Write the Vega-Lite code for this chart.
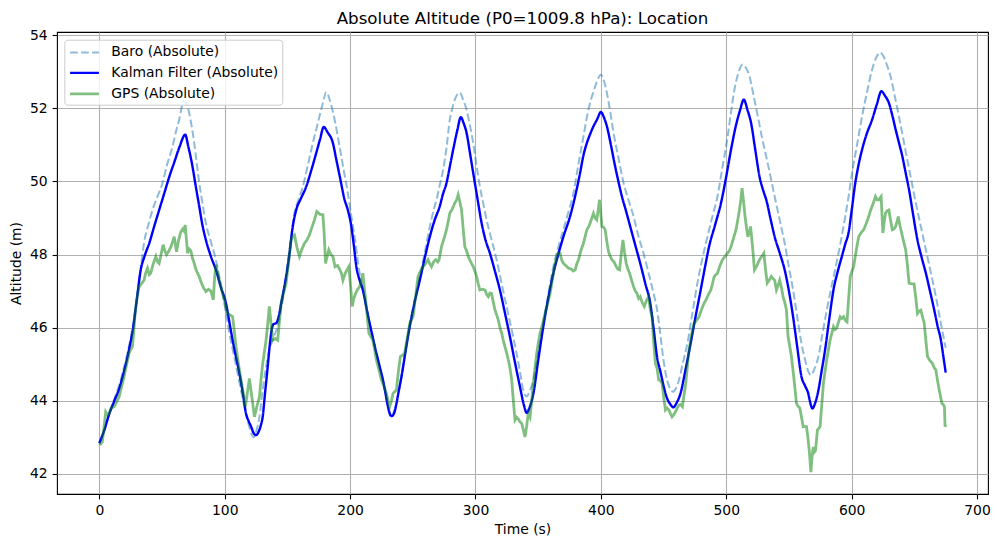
{
  "$schema": "https://vega.github.io/schema/vega-lite/v6.json",
  "width": 931,
  "height": 462,
  "autosize": {"type": "none"},
  "padding": {"left": 57, "top": 32, "right": 11, "bottom": 53},
  "background": "white",
  "title": {
    "text": "Absolute Altitude (P0=1009.8 hPa): Location",
    "font": "DejaVu Sans",
    "fontSize": 16.7,
    "fontWeight": "normal",
    "color": "black",
    "offset": 1
  },
  "config": {
    "view": {"stroke": "black", "strokeWidth": 1.1},
    "axis": {
      "domain": false,
      "grid": true,
      "gridColor": "#b0b0b0",
      "gridWidth": 1.1,
      "gridOpacity": 1,
      "tickColor": "black",
      "tickSize": 4.9,
      "tickWidth": 1.1,
      "labelFont": "DejaVu Sans",
      "labelFontSize": 13.9,
      "labelColor": "black",
      "labelPadding": 4.9,
      "titleFont": "DejaVu Sans",
      "titleFontSize": 13.9,
      "titleFontWeight": "normal",
      "titleColor": "black"
    },
    "legend": {
      "orient": "none",
      "legendX": 7.3,
      "legendY": 7.7,
      "fillColor": "rgba(255,255,255,0.8)",
      "strokeColor": "#cccccc",
      "cornerRadius": 3,
      "padding": 3.7,
      "rowPadding": 4,
      "symbolType": "M-1.8,0H1.8",
      "symbolSize": 256,
      "symbolOffset": 7,
      "labelOffset": 17.3,
      "labelFont": "DejaVu Sans",
      "labelFontSize": 13.9,
      "labelColor": "black",
      "labelLimit": 300
    }
  },
  "data": {
    "values": [
      {"series": "Baro (Absolute)", "t": 0, "alt": 42.84},
      {"series": "Baro (Absolute)", "t": 4, "alt": 43.2},
      {"series": "Baro (Absolute)", "t": 8, "alt": 43.65},
      {"series": "Baro (Absolute)", "t": 12, "alt": 44.05},
      {"series": "Baro (Absolute)", "t": 16, "alt": 44.45},
      {"series": "Baro (Absolute)", "t": 20, "alt": 44.95},
      {"series": "Baro (Absolute)", "t": 24, "alt": 45.55},
      {"series": "Baro (Absolute)", "t": 27, "alt": 46.1},
      {"series": "Baro (Absolute)", "t": 30, "alt": 46.8},
      {"series": "Baro (Absolute)", "t": 33, "alt": 47.6},
      {"series": "Baro (Absolute)", "t": 35.8, "alt": 48.35},
      {"series": "Baro (Absolute)", "t": 39, "alt": 48.8},
      {"series": "Baro (Absolute)", "t": 42.4, "alt": 49.22},
      {"series": "Baro (Absolute)", "t": 46, "alt": 49.55},
      {"series": "Baro (Absolute)", "t": 50.4, "alt": 49.96},
      {"series": "Baro (Absolute)", "t": 54, "alt": 50.45},
      {"series": "Baro (Absolute)", "t": 58.4, "alt": 50.96},
      {"series": "Baro (Absolute)", "t": 61, "alt": 51.35},
      {"series": "Baro (Absolute)", "t": 63.7, "alt": 51.69},
      {"series": "Baro (Absolute)", "t": 65.5, "alt": 52.0},
      {"series": "Baro (Absolute)", "t": 67, "alt": 52.2},
      {"series": "Baro (Absolute)", "t": 69.5, "alt": 52.12},
      {"series": "Baro (Absolute)", "t": 71.7, "alt": 51.87},
      {"series": "Baro (Absolute)", "t": 73.7, "alt": 51.5},
      {"series": "Baro (Absolute)", "t": 75.7, "alt": 51.05},
      {"series": "Baro (Absolute)", "t": 77.7, "alt": 50.5},
      {"series": "Baro (Absolute)", "t": 79.7, "alt": 49.96},
      {"series": "Baro (Absolute)", "t": 82.3, "alt": 49.4},
      {"series": "Baro (Absolute)", "t": 85, "alt": 48.86},
      {"series": "Baro (Absolute)", "t": 89, "alt": 48.35},
      {"series": "Baro (Absolute)", "t": 93, "alt": 47.85},
      {"series": "Baro (Absolute)", "t": 95.7, "alt": 47.4},
      {"series": "Baro (Absolute)", "t": 98.3, "alt": 46.94},
      {"series": "Baro (Absolute)", "t": 101, "alt": 46.4},
      {"series": "Baro (Absolute)", "t": 103.7, "alt": 45.85},
      {"series": "Baro (Absolute)", "t": 107, "alt": 45.3},
      {"series": "Baro (Absolute)", "t": 110.3, "alt": 44.75},
      {"series": "Baro (Absolute)", "t": 113.5, "alt": 44.2},
      {"series": "Baro (Absolute)", "t": 117, "alt": 43.65},
      {"series": "Baro (Absolute)", "t": 119.5, "alt": 43.3},
      {"series": "Baro (Absolute)", "t": 121.5, "alt": 43.08},
      {"series": "Baro (Absolute)", "t": 123, "alt": 43.0},
      {"series": "Baro (Absolute)", "t": 125, "alt": 43.15},
      {"series": "Baro (Absolute)", "t": 127.7, "alt": 43.56},
      {"series": "Baro (Absolute)", "t": 130.3, "alt": 44.3},
      {"series": "Baro (Absolute)", "t": 133, "alt": 44.93},
      {"series": "Baro (Absolute)", "t": 135.6, "alt": 45.4},
      {"series": "Baro (Absolute)", "t": 138.3, "alt": 45.66},
      {"series": "Baro (Absolute)", "t": 140.3, "alt": 45.85},
      {"series": "Baro (Absolute)", "t": 142.3, "alt": 46.03},
      {"series": "Baro (Absolute)", "t": 144.3, "alt": 46.4},
      {"series": "Baro (Absolute)", "t": 146.3, "alt": 46.76},
      {"series": "Baro (Absolute)", "t": 149, "alt": 47.45},
      {"series": "Baro (Absolute)", "t": 151.6, "alt": 48.13},
      {"series": "Baro (Absolute)", "t": 153.6, "alt": 48.65},
      {"series": "Baro (Absolute)", "t": 155.6, "alt": 49.13},
      {"series": "Baro (Absolute)", "t": 158.9, "alt": 49.5},
      {"series": "Baro (Absolute)", "t": 162.3, "alt": 49.86},
      {"series": "Baro (Absolute)", "t": 166.3, "alt": 50.45},
      {"series": "Baro (Absolute)", "t": 170.3, "alt": 51.05},
      {"series": "Baro (Absolute)", "t": 174.3, "alt": 51.6},
      {"series": "Baro (Absolute)", "t": 178.3, "alt": 52.15},
      {"series": "Baro (Absolute)", "t": 181, "alt": 52.45},
      {"series": "Baro (Absolute)", "t": 183.7, "alt": 52.24},
      {"series": "Baro (Absolute)", "t": 187, "alt": 51.8},
      {"series": "Baro (Absolute)", "t": 191.6, "alt": 50.96},
      {"series": "Baro (Absolute)", "t": 195, "alt": 50.3},
      {"series": "Baro (Absolute)", "t": 198.2, "alt": 49.68},
      {"series": "Baro (Absolute)", "t": 201, "alt": 49.05},
      {"series": "Baro (Absolute)", "t": 203.6, "alt": 48.49},
      {"series": "Baro (Absolute)", "t": 207.6, "alt": 47.49},
      {"series": "Baro (Absolute)", "t": 210.2, "alt": 47.03},
      {"series": "Baro (Absolute)", "t": 213, "alt": 46.55},
      {"series": "Baro (Absolute)", "t": 215.6, "alt": 46.12},
      {"series": "Baro (Absolute)", "t": 218, "alt": 45.75},
      {"series": "Baro (Absolute)", "t": 221, "alt": 45.3},
      {"series": "Baro (Absolute)", "t": 223.5, "alt": 44.95},
      {"series": "Baro (Absolute)", "t": 226.2, "alt": 44.57},
      {"series": "Baro (Absolute)", "t": 228, "alt": 44.25},
      {"series": "Baro (Absolute)", "t": 230.2, "alt": 43.84},
      {"series": "Baro (Absolute)", "t": 232.5, "alt": 43.6},
      {"series": "Baro (Absolute)", "t": 235, "alt": 43.7},
      {"series": "Baro (Absolute)", "t": 237, "alt": 43.95},
      {"series": "Baro (Absolute)", "t": 239, "alt": 44.3},
      {"series": "Baro (Absolute)", "t": 241, "alt": 44.7},
      {"series": "Baro (Absolute)", "t": 244, "alt": 45.35},
      {"series": "Baro (Absolute)", "t": 247.6, "alt": 46.08},
      {"series": "Baro (Absolute)", "t": 251.5, "alt": 46.75},
      {"series": "Baro (Absolute)", "t": 255.6, "alt": 47.4},
      {"series": "Baro (Absolute)", "t": 259.5, "alt": 48.05},
      {"series": "Baro (Absolute)", "t": 263.6, "alt": 48.77},
      {"series": "Baro (Absolute)", "t": 266.5, "alt": 49.2},
      {"series": "Baro (Absolute)", "t": 268.9, "alt": 49.5},
      {"series": "Baro (Absolute)", "t": 271.5, "alt": 49.9},
      {"series": "Baro (Absolute)", "t": 274.2, "alt": 50.32},
      {"series": "Baro (Absolute)", "t": 277, "alt": 50.95},
      {"series": "Baro (Absolute)", "t": 279.5, "alt": 51.69},
      {"series": "Baro (Absolute)", "t": 281.5, "alt": 52.0},
      {"series": "Baro (Absolute)", "t": 283.5, "alt": 52.24},
      {"series": "Baro (Absolute)", "t": 285.5, "alt": 52.38},
      {"series": "Baro (Absolute)", "t": 287.6, "alt": 52.43},
      {"series": "Baro (Absolute)", "t": 290, "alt": 52.25},
      {"series": "Baro (Absolute)", "t": 292.9, "alt": 51.96},
      {"series": "Baro (Absolute)", "t": 295.5, "alt": 51.55},
      {"series": "Baro (Absolute)", "t": 298.2, "alt": 51.05},
      {"series": "Baro (Absolute)", "t": 300.8, "alt": 50.45},
      {"series": "Baro (Absolute)", "t": 303.5, "alt": 49.86},
      {"series": "Baro (Absolute)", "t": 306.2, "alt": 49.4},
      {"series": "Baro (Absolute)", "t": 308.9, "alt": 48.95},
      {"series": "Baro (Absolute)", "t": 312.9, "alt": 48.4},
      {"series": "Baro (Absolute)", "t": 316.9, "alt": 47.85},
      {"series": "Baro (Absolute)", "t": 320.9, "alt": 47.2},
      {"series": "Baro (Absolute)", "t": 324.8, "alt": 46.58},
      {"series": "Baro (Absolute)", "t": 328.8, "alt": 45.95},
      {"series": "Baro (Absolute)", "t": 332.8, "alt": 45.3},
      {"series": "Baro (Absolute)", "t": 336, "alt": 44.7},
      {"series": "Baro (Absolute)", "t": 338, "alt": 44.3},
      {"series": "Baro (Absolute)", "t": 339.5, "alt": 44.16},
      {"series": "Baro (Absolute)", "t": 341, "alt": 44.12},
      {"series": "Baro (Absolute)", "t": 343, "alt": 44.25},
      {"series": "Baro (Absolute)", "t": 346.2, "alt": 44.57},
      {"series": "Baro (Absolute)", "t": 350, "alt": 45.3},
      {"series": "Baro (Absolute)", "t": 354.1, "alt": 46.12},
      {"series": "Baro (Absolute)", "t": 358, "alt": 46.9},
      {"series": "Baro (Absolute)", "t": 362.1, "alt": 47.67},
      {"series": "Baro (Absolute)", "t": 366, "alt": 48.2},
      {"series": "Baro (Absolute)", "t": 370.1, "alt": 48.68},
      {"series": "Baro (Absolute)", "t": 374, "alt": 49.15},
      {"series": "Baro (Absolute)", "t": 378.1, "alt": 49.68},
      {"series": "Baro (Absolute)", "t": 382, "alt": 50.45},
      {"series": "Baro (Absolute)", "t": 386.1, "alt": 51.23},
      {"series": "Baro (Absolute)", "t": 388.8, "alt": 51.75},
      {"series": "Baro (Absolute)", "t": 391.4, "alt": 52.15},
      {"series": "Baro (Absolute)", "t": 394, "alt": 52.45},
      {"series": "Baro (Absolute)", "t": 397, "alt": 52.75},
      {"series": "Baro (Absolute)", "t": 400, "alt": 52.92},
      {"series": "Baro (Absolute)", "t": 402.5, "alt": 52.75},
      {"series": "Baro (Absolute)", "t": 404.8, "alt": 52.42},
      {"series": "Baro (Absolute)", "t": 407.5, "alt": 51.9},
      {"series": "Baro (Absolute)", "t": 410.1, "alt": 51.33},
      {"series": "Baro (Absolute)", "t": 414, "alt": 50.65},
      {"series": "Baro (Absolute)", "t": 418.1, "alt": 49.96},
      {"series": "Baro (Absolute)", "t": 422, "alt": 49.5},
      {"series": "Baro (Absolute)", "t": 426.1, "alt": 49.04},
      {"series": "Baro (Absolute)", "t": 430, "alt": 48.5},
      {"series": "Baro (Absolute)", "t": 434, "alt": 48.04},
      {"series": "Baro (Absolute)", "t": 438, "alt": 47.5},
      {"series": "Baro (Absolute)", "t": 442, "alt": 46.94},
      {"series": "Baro (Absolute)", "t": 444.8, "alt": 46.5},
      {"series": "Baro (Absolute)", "t": 447.5, "alt": 45.8},
      {"series": "Baro (Absolute)", "t": 450, "alt": 45.1},
      {"series": "Baro (Absolute)", "t": 452.8, "alt": 44.57},
      {"series": "Baro (Absolute)", "t": 455, "alt": 44.35},
      {"series": "Baro (Absolute)", "t": 457.8, "alt": 44.25},
      {"series": "Baro (Absolute)", "t": 460, "alt": 44.35},
      {"series": "Baro (Absolute)", "t": 462.3, "alt": 44.57},
      {"series": "Baro (Absolute)", "t": 465.5, "alt": 45.05},
      {"series": "Baro (Absolute)", "t": 469, "alt": 45.57},
      {"series": "Baro (Absolute)", "t": 473, "alt": 46.4},
      {"series": "Baro (Absolute)", "t": 477, "alt": 47.22},
      {"series": "Baro (Absolute)", "t": 481, "alt": 47.9},
      {"series": "Baro (Absolute)", "t": 485, "alt": 48.49},
      {"series": "Baro (Absolute)", "t": 489, "alt": 49.05},
      {"series": "Baro (Absolute)", "t": 493, "alt": 49.59},
      {"series": "Baro (Absolute)", "t": 497, "alt": 50.4},
      {"series": "Baro (Absolute)", "t": 501.1, "alt": 51.23},
      {"series": "Baro (Absolute)", "t": 503.8, "alt": 51.9},
      {"series": "Baro (Absolute)", "t": 506.5, "alt": 52.51},
      {"series": "Baro (Absolute)", "t": 509.5, "alt": 52.95},
      {"series": "Baro (Absolute)", "t": 513.1, "alt": 53.2},
      {"series": "Baro (Absolute)", "t": 515.5, "alt": 53.12},
      {"series": "Baro (Absolute)", "t": 518.5, "alt": 52.88},
      {"series": "Baro (Absolute)", "t": 521.8, "alt": 52.35},
      {"series": "Baro (Absolute)", "t": 525.2, "alt": 51.78},
      {"series": "Baro (Absolute)", "t": 528.5, "alt": 51.2},
      {"series": "Baro (Absolute)", "t": 531.9, "alt": 50.68},
      {"series": "Baro (Absolute)", "t": 535.2, "alt": 50.15},
      {"series": "Baro (Absolute)", "t": 538.6, "alt": 49.59},
      {"series": "Baro (Absolute)", "t": 542.6, "alt": 48.95},
      {"series": "Baro (Absolute)", "t": 546.6, "alt": 48.31},
      {"series": "Baro (Absolute)", "t": 550, "alt": 47.65},
      {"series": "Baro (Absolute)", "t": 553.3, "alt": 47.03},
      {"series": "Baro (Absolute)", "t": 556.6, "alt": 46.3},
      {"series": "Baro (Absolute)", "t": 560, "alt": 45.57},
      {"series": "Baro (Absolute)", "t": 563, "alt": 45.1},
      {"series": "Baro (Absolute)", "t": 565.5, "alt": 44.8},
      {"series": "Baro (Absolute)", "t": 567.5, "alt": 44.7},
      {"series": "Baro (Absolute)", "t": 570, "alt": 44.85},
      {"series": "Baro (Absolute)", "t": 573.5, "alt": 45.21},
      {"series": "Baro (Absolute)", "t": 576.8, "alt": 45.85},
      {"series": "Baro (Absolute)", "t": 580.2, "alt": 46.48},
      {"series": "Baro (Absolute)", "t": 583.5, "alt": 47.05},
      {"series": "Baro (Absolute)", "t": 586.8, "alt": 47.58},
      {"series": "Baro (Absolute)", "t": 591, "alt": 48.3},
      {"series": "Baro (Absolute)", "t": 594.9, "alt": 49.04},
      {"series": "Baro (Absolute)", "t": 597.6, "alt": 49.6},
      {"series": "Baro (Absolute)", "t": 600.3, "alt": 50.23},
      {"series": "Baro (Absolute)", "t": 604.3, "alt": 51.0},
      {"series": "Baro (Absolute)", "t": 608.3, "alt": 51.78},
      {"series": "Baro (Absolute)", "t": 612.3, "alt": 52.45},
      {"series": "Baro (Absolute)", "t": 616.3, "alt": 53.06},
      {"series": "Baro (Absolute)", "t": 619.5, "alt": 53.38},
      {"series": "Baro (Absolute)", "t": 622.5, "alt": 53.53},
      {"series": "Baro (Absolute)", "t": 625, "alt": 53.45},
      {"series": "Baro (Absolute)", "t": 628, "alt": 53.2},
      {"series": "Baro (Absolute)", "t": 631, "alt": 52.88},
      {"series": "Baro (Absolute)", "t": 634.3, "alt": 52.35},
      {"series": "Baro (Absolute)", "t": 637.7, "alt": 51.78},
      {"series": "Baro (Absolute)", "t": 641, "alt": 51.2},
      {"series": "Baro (Absolute)", "t": 644.4, "alt": 50.59},
      {"series": "Baro (Absolute)", "t": 647.8, "alt": 50.0},
      {"series": "Baro (Absolute)", "t": 651.2, "alt": 49.41},
      {"series": "Baro (Absolute)", "t": 655.2, "alt": 48.77},
      {"series": "Baro (Absolute)", "t": 659.2, "alt": 48.13},
      {"series": "Baro (Absolute)", "t": 663.2, "alt": 47.5},
      {"series": "Baro (Absolute)", "t": 667.2, "alt": 46.85},
      {"series": "Baro (Absolute)", "t": 671, "alt": 46.15},
      {"series": "Baro (Absolute)", "t": 675, "alt": 45.45},

      {"series": "Kalman Filter (Absolute)", "t": 0, "alt": 42.84},
      {"series": "Kalman Filter (Absolute)", "t": 4, "alt": 43.2},
      {"series": "Kalman Filter (Absolute)", "t": 8, "alt": 43.65},
      {"series": "Kalman Filter (Absolute)", "t": 12, "alt": 44.0},
      {"series": "Kalman Filter (Absolute)", "t": 16, "alt": 44.35},
      {"series": "Kalman Filter (Absolute)", "t": 20, "alt": 44.85},
      {"series": "Kalman Filter (Absolute)", "t": 24, "alt": 45.45},
      {"series": "Kalman Filter (Absolute)", "t": 27, "alt": 46.0},
      {"series": "Kalman Filter (Absolute)", "t": 30, "alt": 46.8},
      {"series": "Kalman Filter (Absolute)", "t": 33, "alt": 47.58},
      {"series": "Kalman Filter (Absolute)", "t": 36, "alt": 47.95},
      {"series": "Kalman Filter (Absolute)", "t": 40, "alt": 48.33},
      {"series": "Kalman Filter (Absolute)", "t": 44, "alt": 48.8},
      {"series": "Kalman Filter (Absolute)", "t": 48, "alt": 49.25},
      {"series": "Kalman Filter (Absolute)", "t": 52, "alt": 49.7},
      {"series": "Kalman Filter (Absolute)", "t": 56, "alt": 50.15},
      {"series": "Kalman Filter (Absolute)", "t": 60, "alt": 50.55},
      {"series": "Kalman Filter (Absolute)", "t": 64, "alt": 50.95},
      {"series": "Kalman Filter (Absolute)", "t": 68.5, "alt": 51.28},
      {"series": "Kalman Filter (Absolute)", "t": 71, "alt": 50.95},
      {"series": "Kalman Filter (Absolute)", "t": 74.3, "alt": 50.41},
      {"series": "Kalman Filter (Absolute)", "t": 77, "alt": 49.85},
      {"series": "Kalman Filter (Absolute)", "t": 79.7, "alt": 49.32},
      {"series": "Kalman Filter (Absolute)", "t": 82, "alt": 48.85},
      {"series": "Kalman Filter (Absolute)", "t": 85, "alt": 48.4},
      {"series": "Kalman Filter (Absolute)", "t": 89, "alt": 47.95},
      {"series": "Kalman Filter (Absolute)", "t": 93, "alt": 47.58},
      {"series": "Kalman Filter (Absolute)", "t": 97, "alt": 47.1},
      {"series": "Kalman Filter (Absolute)", "t": 101, "alt": 46.67},
      {"series": "Kalman Filter (Absolute)", "t": 104, "alt": 46.1},
      {"series": "Kalman Filter (Absolute)", "t": 106.3, "alt": 45.66},
      {"series": "Kalman Filter (Absolute)", "t": 109, "alt": 45.2},
      {"series": "Kalman Filter (Absolute)", "t": 111.7, "alt": 44.75},
      {"series": "Kalman Filter (Absolute)", "t": 114.5, "alt": 44.2},
      {"series": "Kalman Filter (Absolute)", "t": 117, "alt": 43.65},
      {"series": "Kalman Filter (Absolute)", "t": 119, "alt": 43.45},
      {"series": "Kalman Filter (Absolute)", "t": 121, "alt": 43.3},
      {"series": "Kalman Filter (Absolute)", "t": 123, "alt": 43.12},
      {"series": "Kalman Filter (Absolute)", "t": 125, "alt": 43.06},
      {"series": "Kalman Filter (Absolute)", "t": 127, "alt": 43.15},
      {"series": "Kalman Filter (Absolute)", "t": 129, "alt": 43.35},
      {"series": "Kalman Filter (Absolute)", "t": 130.3, "alt": 43.56},
      {"series": "Kalman Filter (Absolute)", "t": 132, "alt": 44.15},
      {"series": "Kalman Filter (Absolute)", "t": 134.3, "alt": 44.93},
      {"series": "Kalman Filter (Absolute)", "t": 136, "alt": 45.55},
      {"series": "Kalman Filter (Absolute)", "t": 137.5, "alt": 45.95},
      {"series": "Kalman Filter (Absolute)", "t": 139, "alt": 46.1},
      {"series": "Kalman Filter (Absolute)", "t": 141, "alt": 46.12},
      {"series": "Kalman Filter (Absolute)", "t": 143, "alt": 46.3},
      {"series": "Kalman Filter (Absolute)", "t": 145.5, "alt": 46.75},
      {"series": "Kalman Filter (Absolute)", "t": 149, "alt": 47.4},
      {"series": "Kalman Filter (Absolute)", "t": 151, "alt": 47.85},
      {"series": "Kalman Filter (Absolute)", "t": 154.3, "alt": 48.77},
      {"series": "Kalman Filter (Absolute)", "t": 157, "alt": 49.22},
      {"series": "Kalman Filter (Absolute)", "t": 161, "alt": 49.55},
      {"series": "Kalman Filter (Absolute)", "t": 165, "alt": 49.86},
      {"series": "Kalman Filter (Absolute)", "t": 169, "alt": 50.3},
      {"series": "Kalman Filter (Absolute)", "t": 173, "alt": 50.78},
      {"series": "Kalman Filter (Absolute)", "t": 176, "alt": 51.15},
      {"series": "Kalman Filter (Absolute)", "t": 179, "alt": 51.49},
      {"series": "Kalman Filter (Absolute)", "t": 182, "alt": 51.35},
      {"series": "Kalman Filter (Absolute)", "t": 186.3, "alt": 51.05},
      {"series": "Kalman Filter (Absolute)", "t": 189, "alt": 50.6},
      {"series": "Kalman Filter (Absolute)", "t": 192, "alt": 50.1},
      {"series": "Kalman Filter (Absolute)", "t": 195.6, "alt": 49.5},
      {"series": "Kalman Filter (Absolute)", "t": 198.2, "alt": 49.22},
      {"series": "Kalman Filter (Absolute)", "t": 201, "alt": 48.77},
      {"series": "Kalman Filter (Absolute)", "t": 203, "alt": 48.25},
      {"series": "Kalman Filter (Absolute)", "t": 205, "alt": 47.67},
      {"series": "Kalman Filter (Absolute)", "t": 207.6, "alt": 47.3},
      {"series": "Kalman Filter (Absolute)", "t": 210.2, "alt": 47.03},
      {"series": "Kalman Filter (Absolute)", "t": 213, "alt": 46.55},
      {"series": "Kalman Filter (Absolute)", "t": 215.6, "alt": 46.12},
      {"series": "Kalman Filter (Absolute)", "t": 218, "alt": 45.75},
      {"series": "Kalman Filter (Absolute)", "t": 221, "alt": 45.3},
      {"series": "Kalman Filter (Absolute)", "t": 223.5, "alt": 44.95},
      {"series": "Kalman Filter (Absolute)", "t": 226.2, "alt": 44.57},
      {"series": "Kalman Filter (Absolute)", "t": 228, "alt": 44.25},
      {"series": "Kalman Filter (Absolute)", "t": 230.2, "alt": 43.84},
      {"series": "Kalman Filter (Absolute)", "t": 232, "alt": 43.62},
      {"series": "Kalman Filter (Absolute)", "t": 233, "alt": 43.58},
      {"series": "Kalman Filter (Absolute)", "t": 235, "alt": 43.65},
      {"series": "Kalman Filter (Absolute)", "t": 237, "alt": 43.93},
      {"series": "Kalman Filter (Absolute)", "t": 239, "alt": 44.3},
      {"series": "Kalman Filter (Absolute)", "t": 241, "alt": 44.66},
      {"series": "Kalman Filter (Absolute)", "t": 244, "alt": 45.3},
      {"series": "Kalman Filter (Absolute)", "t": 247.6, "alt": 46.03},
      {"series": "Kalman Filter (Absolute)", "t": 251.5, "alt": 46.7},
      {"series": "Kalman Filter (Absolute)", "t": 255.6, "alt": 47.3},
      {"series": "Kalman Filter (Absolute)", "t": 259.5, "alt": 47.9},
      {"series": "Kalman Filter (Absolute)", "t": 263.6, "alt": 48.49},
      {"series": "Kalman Filter (Absolute)", "t": 267.5, "alt": 48.95},
      {"series": "Kalman Filter (Absolute)", "t": 271.5, "alt": 49.32},
      {"series": "Kalman Filter (Absolute)", "t": 274, "alt": 49.65},
      {"series": "Kalman Filter (Absolute)", "t": 276.9, "alt": 49.96},
      {"series": "Kalman Filter (Absolute)", "t": 279.5, "alt": 50.4},
      {"series": "Kalman Filter (Absolute)", "t": 282.2, "alt": 50.87},
      {"series": "Kalman Filter (Absolute)", "t": 285.5, "alt": 51.4},
      {"series": "Kalman Filter (Absolute)", "t": 288.3, "alt": 51.76},
      {"series": "Kalman Filter (Absolute)", "t": 290.5, "alt": 51.6},
      {"series": "Kalman Filter (Absolute)", "t": 292.9, "alt": 51.33},
      {"series": "Kalman Filter (Absolute)", "t": 295.5, "alt": 50.8},
      {"series": "Kalman Filter (Absolute)", "t": 298.2, "alt": 50.23},
      {"series": "Kalman Filter (Absolute)", "t": 301.5, "alt": 49.55},
      {"series": "Kalman Filter (Absolute)", "t": 304.9, "alt": 48.86},
      {"series": "Kalman Filter (Absolute)", "t": 308, "alt": 48.4},
      {"series": "Kalman Filter (Absolute)", "t": 311.5, "alt": 48.04},
      {"series": "Kalman Filter (Absolute)", "t": 315.5, "alt": 47.55},
      {"series": "Kalman Filter (Absolute)", "t": 319.5, "alt": 47.03},
      {"series": "Kalman Filter (Absolute)", "t": 323.5, "alt": 46.4},
      {"series": "Kalman Filter (Absolute)", "t": 327.5, "alt": 45.75},
      {"series": "Kalman Filter (Absolute)", "t": 331.5, "alt": 45.05},
      {"series": "Kalman Filter (Absolute)", "t": 335.5, "alt": 44.38},
      {"series": "Kalman Filter (Absolute)", "t": 338.5, "alt": 43.9},
      {"series": "Kalman Filter (Absolute)", "t": 340.8, "alt": 43.67},
      {"series": "Kalman Filter (Absolute)", "t": 343.5, "alt": 43.85},
      {"series": "Kalman Filter (Absolute)", "t": 346.2, "alt": 44.2},
      {"series": "Kalman Filter (Absolute)", "t": 350, "alt": 45.1},
      {"series": "Kalman Filter (Absolute)", "t": 354.1, "alt": 46.03},
      {"series": "Kalman Filter (Absolute)", "t": 358, "alt": 46.8},
      {"series": "Kalman Filter (Absolute)", "t": 362.1, "alt": 47.49},
      {"series": "Kalman Filter (Absolute)", "t": 366, "alt": 48.0},
      {"series": "Kalman Filter (Absolute)", "t": 370.1, "alt": 48.49},
      {"series": "Kalman Filter (Absolute)", "t": 375.4, "alt": 49.04},
      {"series": "Kalman Filter (Absolute)", "t": 379.5, "alt": 49.6},
      {"series": "Kalman Filter (Absolute)", "t": 383.4, "alt": 50.23},
      {"series": "Kalman Filter (Absolute)", "t": 386, "alt": 50.7},
      {"series": "Kalman Filter (Absolute)", "t": 388.8, "alt": 51.05},
      {"series": "Kalman Filter (Absolute)", "t": 391.5, "alt": 51.3},
      {"series": "Kalman Filter (Absolute)", "t": 394.1, "alt": 51.51},
      {"series": "Kalman Filter (Absolute)", "t": 397, "alt": 51.7},
      {"series": "Kalman Filter (Absolute)", "t": 400, "alt": 51.9},
      {"series": "Kalman Filter (Absolute)", "t": 402.5, "alt": 51.75},
      {"series": "Kalman Filter (Absolute)", "t": 404.8, "alt": 51.51},
      {"series": "Kalman Filter (Absolute)", "t": 408, "alt": 51.0},
      {"series": "Kalman Filter (Absolute)", "t": 411.4, "alt": 50.41},
      {"series": "Kalman Filter (Absolute)", "t": 414, "alt": 50.0},
      {"series": "Kalman Filter (Absolute)", "t": 416.8, "alt": 49.59},
      {"series": "Kalman Filter (Absolute)", "t": 420, "alt": 49.2},
      {"series": "Kalman Filter (Absolute)", "t": 423.4, "alt": 48.77},
      {"series": "Kalman Filter (Absolute)", "t": 427.5, "alt": 48.25},
      {"series": "Kalman Filter (Absolute)", "t": 431.4, "alt": 47.76},
      {"series": "Kalman Filter (Absolute)", "t": 435.5, "alt": 47.2},
      {"series": "Kalman Filter (Absolute)", "t": 439.4, "alt": 46.67},
      {"series": "Kalman Filter (Absolute)", "t": 442, "alt": 46.0},
      {"series": "Kalman Filter (Absolute)", "t": 444.8, "alt": 45.2},
      {"series": "Kalman Filter (Absolute)", "t": 447.5, "alt": 44.8},
      {"series": "Kalman Filter (Absolute)", "t": 450.2, "alt": 44.38},
      {"series": "Kalman Filter (Absolute)", "t": 453, "alt": 44.05},
      {"series": "Kalman Filter (Absolute)", "t": 455.5, "alt": 43.9},
      {"series": "Kalman Filter (Absolute)", "t": 457.7, "alt": 43.82},
      {"series": "Kalman Filter (Absolute)", "t": 460.5, "alt": 43.95},
      {"series": "Kalman Filter (Absolute)", "t": 463.5, "alt": 44.2},
      {"series": "Kalman Filter (Absolute)", "t": 467.5, "alt": 44.85},
      {"series": "Kalman Filter (Absolute)", "t": 471.6, "alt": 45.57},
      {"series": "Kalman Filter (Absolute)", "t": 475.5, "alt": 46.3},
      {"series": "Kalman Filter (Absolute)", "t": 479.6, "alt": 47.03},
      {"series": "Kalman Filter (Absolute)", "t": 483, "alt": 47.65},
      {"series": "Kalman Filter (Absolute)", "t": 486.3, "alt": 48.22},
      {"series": "Kalman Filter (Absolute)", "t": 491, "alt": 48.8},
      {"series": "Kalman Filter (Absolute)", "t": 495.8, "alt": 49.41},
      {"series": "Kalman Filter (Absolute)", "t": 499.8, "alt": 50.1},
      {"series": "Kalman Filter (Absolute)", "t": 503.8, "alt": 50.87},
      {"series": "Kalman Filter (Absolute)", "t": 507.5, "alt": 51.5},
      {"series": "Kalman Filter (Absolute)", "t": 511, "alt": 51.95},
      {"series": "Kalman Filter (Absolute)", "t": 514, "alt": 52.24},
      {"series": "Kalman Filter (Absolute)", "t": 517, "alt": 51.95},
      {"series": "Kalman Filter (Absolute)", "t": 519.8, "alt": 51.6},
      {"series": "Kalman Filter (Absolute)", "t": 523, "alt": 50.9},
      {"series": "Kalman Filter (Absolute)", "t": 526.5, "alt": 50.14},
      {"series": "Kalman Filter (Absolute)", "t": 529.5, "alt": 49.75},
      {"series": "Kalman Filter (Absolute)", "t": 531.9, "alt": 49.5},
      {"series": "Kalman Filter (Absolute)", "t": 535.5, "alt": 48.95},
      {"series": "Kalman Filter (Absolute)", "t": 538.6, "alt": 48.49},
      {"series": "Kalman Filter (Absolute)", "t": 542.6, "alt": 48.05},
      {"series": "Kalman Filter (Absolute)", "t": 546.6, "alt": 47.58},
      {"series": "Kalman Filter (Absolute)", "t": 550, "alt": 47.0},
      {"series": "Kalman Filter (Absolute)", "t": 553.3, "alt": 46.3},
      {"series": "Kalman Filter (Absolute)", "t": 556.5, "alt": 45.5},
      {"series": "Kalman Filter (Absolute)", "t": 560, "alt": 44.66},
      {"series": "Kalman Filter (Absolute)", "t": 563, "alt": 44.4},
      {"series": "Kalman Filter (Absolute)", "t": 565.4, "alt": 44.2},
      {"series": "Kalman Filter (Absolute)", "t": 567, "alt": 43.95},
      {"series": "Kalman Filter (Absolute)", "t": 568.6, "alt": 43.79},
      {"series": "Kalman Filter (Absolute)", "t": 571, "alt": 43.95},
      {"series": "Kalman Filter (Absolute)", "t": 573.5, "alt": 44.29},
      {"series": "Kalman Filter (Absolute)", "t": 576, "alt": 44.8},
      {"series": "Kalman Filter (Absolute)", "t": 578.8, "alt": 45.39},
      {"series": "Kalman Filter (Absolute)", "t": 582, "alt": 46.2},
      {"series": "Kalman Filter (Absolute)", "t": 585.5, "alt": 47.03},
      {"series": "Kalman Filter (Absolute)", "t": 589, "alt": 47.55},
      {"series": "Kalman Filter (Absolute)", "t": 592.2, "alt": 47.95},
      {"series": "Kalman Filter (Absolute)", "t": 595, "alt": 48.3},
      {"series": "Kalman Filter (Absolute)", "t": 597.5, "alt": 48.59},
      {"series": "Kalman Filter (Absolute)", "t": 600, "alt": 49.2},
      {"series": "Kalman Filter (Absolute)", "t": 602.9, "alt": 49.96},
      {"series": "Kalman Filter (Absolute)", "t": 605.5, "alt": 50.45},
      {"series": "Kalman Filter (Absolute)", "t": 608.3, "alt": 50.87},
      {"series": "Kalman Filter (Absolute)", "t": 612, "alt": 51.3},
      {"series": "Kalman Filter (Absolute)", "t": 616.3, "alt": 51.69},
      {"series": "Kalman Filter (Absolute)", "t": 620, "alt": 52.1},
      {"series": "Kalman Filter (Absolute)", "t": 623.8, "alt": 52.47},
      {"series": "Kalman Filter (Absolute)", "t": 626.5, "alt": 52.35},
      {"series": "Kalman Filter (Absolute)", "t": 629.7, "alt": 52.15},
      {"series": "Kalman Filter (Absolute)", "t": 632.5, "alt": 51.8},
      {"series": "Kalman Filter (Absolute)", "t": 635.1, "alt": 51.42},
      {"series": "Kalman Filter (Absolute)", "t": 637.8, "alt": 51.05},
      {"series": "Kalman Filter (Absolute)", "t": 640.5, "alt": 50.68},
      {"series": "Kalman Filter (Absolute)", "t": 643, "alt": 50.25},
      {"series": "Kalman Filter (Absolute)", "t": 645.8, "alt": 49.77},
      {"series": "Kalman Filter (Absolute)", "t": 649, "alt": 49.1},
      {"series": "Kalman Filter (Absolute)", "t": 652.5, "alt": 48.4},
      {"series": "Kalman Filter (Absolute)", "t": 656, "alt": 47.9},
      {"series": "Kalman Filter (Absolute)", "t": 659.2, "alt": 47.49},
      {"series": "Kalman Filter (Absolute)", "t": 662.5, "alt": 47.0},
      {"series": "Kalman Filter (Absolute)", "t": 665.9, "alt": 46.48},
      {"series": "Kalman Filter (Absolute)", "t": 668.5, "alt": 46.05},
      {"series": "Kalman Filter (Absolute)", "t": 671.2, "alt": 45.66},
      {"series": "Kalman Filter (Absolute)", "t": 673.2, "alt": 45.2},
      {"series": "Kalman Filter (Absolute)", "t": 675, "alt": 44.77},

      {"series": "GPS (Absolute)", "t": 0, "alt": 42.84},
      {"series": "GPS (Absolute)", "t": 1.2, "alt": 42.82},
      {"series": "GPS (Absolute)", "t": 2.4, "alt": 42.88},
      {"series": "GPS (Absolute)", "t": 3.5, "alt": 43.2},
      {"series": "GPS (Absolute)", "t": 5.1, "alt": 43.7},
      {"series": "GPS (Absolute)", "t": 6.5, "alt": 43.62},
      {"series": "GPS (Absolute)", "t": 7.8, "alt": 43.65},
      {"series": "GPS (Absolute)", "t": 9.5, "alt": 43.8},
      {"series": "GPS (Absolute)", "t": 11.8, "alt": 43.84},
      {"series": "GPS (Absolute)", "t": 13.5, "alt": 43.95},
      {"series": "GPS (Absolute)", "t": 15.7, "alt": 44.1},
      {"series": "GPS (Absolute)", "t": 17.5, "alt": 44.35},
      {"series": "GPS (Absolute)", "t": 19.7, "alt": 44.66},
      {"series": "GPS (Absolute)", "t": 21.5, "alt": 44.95},
      {"series": "GPS (Absolute)", "t": 23.7, "alt": 45.3},
      {"series": "GPS (Absolute)", "t": 25, "alt": 45.4},
      {"series": "GPS (Absolute)", "t": 26.4, "alt": 45.48},
      {"series": "GPS (Absolute)", "t": 27.5, "alt": 45.9},
      {"series": "GPS (Absolute)", "t": 28.5, "alt": 46.39},
      {"series": "GPS (Absolute)", "t": 30, "alt": 46.8},
      {"series": "GPS (Absolute)", "t": 31.7, "alt": 47.12},
      {"series": "GPS (Absolute)", "t": 33.5, "alt": 47.2},
      {"series": "GPS (Absolute)", "t": 35.7, "alt": 47.3},
      {"series": "GPS (Absolute)", "t": 37, "alt": 47.5},
      {"series": "GPS (Absolute)", "t": 38.4, "alt": 47.63},
      {"series": "GPS (Absolute)", "t": 39.8, "alt": 47.45},
      {"series": "GPS (Absolute)", "t": 41, "alt": 47.49},
      {"series": "GPS (Absolute)", "t": 43, "alt": 47.75},
      {"series": "GPS (Absolute)", "t": 45.1, "alt": 47.95},
      {"series": "GPS (Absolute)", "t": 46.5, "alt": 47.8},
      {"series": "GPS (Absolute)", "t": 47.7, "alt": 47.76},
      {"series": "GPS (Absolute)", "t": 49.5, "alt": 48.05},
      {"series": "GPS (Absolute)", "t": 50.9, "alt": 48.27},
      {"series": "GPS (Absolute)", "t": 52.3, "alt": 48.1},
      {"series": "GPS (Absolute)", "t": 53.6, "alt": 48.0},
      {"series": "GPS (Absolute)", "t": 55.5, "alt": 48.1},
      {"series": "GPS (Absolute)", "t": 57.1, "alt": 48.22},
      {"series": "GPS (Absolute)", "t": 58.5, "alt": 48.35},
      {"series": "GPS (Absolute)", "t": 59.7, "alt": 48.49},
      {"series": "GPS (Absolute)", "t": 60.8, "alt": 48.25},
      {"series": "GPS (Absolute)", "t": 61.6, "alt": 48.08},
      {"series": "GPS (Absolute)", "t": 63.2, "alt": 48.4},
      {"series": "GPS (Absolute)", "t": 65.1, "alt": 48.63},
      {"series": "GPS (Absolute)", "t": 66.5, "alt": 48.7},
      {"series": "GPS (Absolute)", "t": 67.5, "alt": 48.65},
      {"series": "GPS (Absolute)", "t": 68.5, "alt": 48.81},
      {"series": "GPS (Absolute)", "t": 69.5, "alt": 48.4},
      {"series": "GPS (Absolute)", "t": 70.4, "alt": 48.04},
      {"series": "GPS (Absolute)", "t": 71.7, "alt": 48.15},
      {"series": "GPS (Absolute)", "t": 73, "alt": 48.1},
      {"series": "GPS (Absolute)", "t": 74.3, "alt": 47.9},
      {"series": "GPS (Absolute)", "t": 75.7, "alt": 47.76},
      {"series": "GPS (Absolute)", "t": 77, "alt": 47.6},
      {"series": "GPS (Absolute)", "t": 78.3, "alt": 47.49},
      {"series": "GPS (Absolute)", "t": 79.7, "alt": 47.4},
      {"series": "GPS (Absolute)", "t": 81, "alt": 47.26},
      {"series": "GPS (Absolute)", "t": 83, "alt": 47.1},
      {"series": "GPS (Absolute)", "t": 85, "alt": 46.99},
      {"series": "GPS (Absolute)", "t": 87, "alt": 47.05},
      {"series": "GPS (Absolute)", "t": 89, "alt": 47.0},
      {"series": "GPS (Absolute)", "t": 90.9, "alt": 46.76},
      {"series": "GPS (Absolute)", "t": 92, "alt": 47.4},
      {"series": "GPS (Absolute)", "t": 93, "alt": 47.72},
      {"series": "GPS (Absolute)", "t": 94.3, "alt": 47.5},
      {"series": "GPS (Absolute)", "t": 95.7, "alt": 47.3},
      {"series": "GPS (Absolute)", "t": 97.5, "alt": 47.05},
      {"series": "GPS (Absolute)", "t": 99.7, "alt": 46.76},
      {"series": "GPS (Absolute)", "t": 101, "alt": 46.55},
      {"series": "GPS (Absolute)", "t": 102.3, "alt": 46.39},
      {"series": "GPS (Absolute)", "t": 104.3, "alt": 46.35},
      {"series": "GPS (Absolute)", "t": 106.3, "alt": 46.3},
      {"series": "GPS (Absolute)", "t": 107.7, "alt": 45.9},
      {"series": "GPS (Absolute)", "t": 109, "alt": 45.48},
      {"series": "GPS (Absolute)", "t": 111, "alt": 45.0},
      {"series": "GPS (Absolute)", "t": 113, "alt": 44.57},
      {"series": "GPS (Absolute)", "t": 114.8, "alt": 44.2},
      {"series": "GPS (Absolute)", "t": 116.5, "alt": 43.84},
      {"series": "GPS (Absolute)", "t": 118, "alt": 44.2},
      {"series": "GPS (Absolute)", "t": 119.7, "alt": 44.61},
      {"series": "GPS (Absolute)", "t": 121.7, "alt": 44.1},
      {"series": "GPS (Absolute)", "t": 123.7, "alt": 43.56},
      {"series": "GPS (Absolute)", "t": 125.7, "alt": 43.85},
      {"series": "GPS (Absolute)", "t": 127.7, "alt": 44.11},
      {"series": "GPS (Absolute)", "t": 129, "alt": 44.6},
      {"series": "GPS (Absolute)", "t": 130.3, "alt": 45.02},
      {"series": "GPS (Absolute)", "t": 131.7, "alt": 45.35},
      {"series": "GPS (Absolute)", "t": 133, "alt": 45.66},
      {"series": "GPS (Absolute)", "t": 134.3, "alt": 46.1},
      {"series": "GPS (Absolute)", "t": 135.6, "alt": 46.58},
      {"series": "GPS (Absolute)", "t": 137, "alt": 46.1},
      {"series": "GPS (Absolute)", "t": 138.3, "alt": 45.66},
      {"series": "GPS (Absolute)", "t": 140.3, "alt": 45.7},
      {"series": "GPS (Absolute)", "t": 142.3, "alt": 45.66},
      {"series": "GPS (Absolute)", "t": 143.7, "alt": 46.2},
      {"series": "GPS (Absolute)", "t": 145, "alt": 46.67},
      {"series": "GPS (Absolute)", "t": 147, "alt": 46.95},
      {"series": "GPS (Absolute)", "t": 149, "alt": 47.22},
      {"series": "GPS (Absolute)", "t": 151, "alt": 47.8},
      {"series": "GPS (Absolute)", "t": 153, "alt": 48.4},
      {"series": "GPS (Absolute)", "t": 154.3, "alt": 48.5},
      {"series": "GPS (Absolute)", "t": 155.6, "alt": 48.54},
      {"series": "GPS (Absolute)", "t": 157.6, "alt": 48.2},
      {"series": "GPS (Absolute)", "t": 159.6, "alt": 47.95},
      {"series": "GPS (Absolute)", "t": 161.6, "alt": 48.15},
      {"series": "GPS (Absolute)", "t": 163.6, "alt": 48.31},
      {"series": "GPS (Absolute)", "t": 165.6, "alt": 48.4},
      {"series": "GPS (Absolute)", "t": 167.6, "alt": 48.54},
      {"series": "GPS (Absolute)", "t": 169.6, "alt": 48.75},
      {"series": "GPS (Absolute)", "t": 171.6, "alt": 48.95},
      {"series": "GPS (Absolute)", "t": 173.5, "alt": 49.18},
      {"series": "GPS (Absolute)", "t": 176, "alt": 49.1},
      {"series": "GPS (Absolute)", "t": 178.3, "alt": 49.09},
      {"series": "GPS (Absolute)", "t": 179.3, "alt": 48.6},
      {"series": "GPS (Absolute)", "t": 180.4, "alt": 47.76},
      {"series": "GPS (Absolute)", "t": 181.7, "alt": 47.95},
      {"series": "GPS (Absolute)", "t": 183, "alt": 48.13},
      {"series": "GPS (Absolute)", "t": 184.7, "alt": 48.0},
      {"series": "GPS (Absolute)", "t": 186.3, "alt": 47.95},
      {"series": "GPS (Absolute)", "t": 188, "alt": 47.67},
      {"series": "GPS (Absolute)", "t": 190, "alt": 47.7},
      {"series": "GPS (Absolute)", "t": 191.6, "alt": 47.6},
      {"series": "GPS (Absolute)", "t": 193, "alt": 47.5},
      {"series": "GPS (Absolute)", "t": 194.3, "alt": 47.3},
      {"series": "GPS (Absolute)", "t": 195.7, "alt": 47.45},
      {"series": "GPS (Absolute)", "t": 197, "alt": 47.55},
      {"series": "GPS (Absolute)", "t": 199, "alt": 47.67},
      {"series": "GPS (Absolute)", "t": 200.5, "alt": 47.1},
      {"series": "GPS (Absolute)", "t": 201.7, "alt": 46.58},
      {"series": "GPS (Absolute)", "t": 203, "alt": 46.8},
      {"series": "GPS (Absolute)", "t": 204.4, "alt": 46.94},
      {"series": "GPS (Absolute)", "t": 206, "alt": 47.05},
      {"series": "GPS (Absolute)", "t": 207.6, "alt": 47.12},
      {"series": "GPS (Absolute)", "t": 209, "alt": 47.3},
      {"series": "GPS (Absolute)", "t": 210.2, "alt": 47.49},
      {"series": "GPS (Absolute)", "t": 211.3, "alt": 47.1},
      {"series": "GPS (Absolute)", "t": 212.4, "alt": 46.76},
      {"series": "GPS (Absolute)", "t": 213.7, "alt": 46.3},
      {"series": "GPS (Absolute)", "t": 215, "alt": 45.85},
      {"series": "GPS (Absolute)", "t": 216.6, "alt": 45.75},
      {"series": "GPS (Absolute)", "t": 218.2, "alt": 45.66},
      {"series": "GPS (Absolute)", "t": 219.6, "alt": 45.4},
      {"series": "GPS (Absolute)", "t": 221, "alt": 45.12},
      {"series": "GPS (Absolute)", "t": 223, "alt": 44.85},
      {"series": "GPS (Absolute)", "t": 225, "alt": 44.57},
      {"series": "GPS (Absolute)", "t": 227, "alt": 44.4},
      {"series": "GPS (Absolute)", "t": 229, "alt": 44.2},
      {"series": "GPS (Absolute)", "t": 230.3, "alt": 44.0},
      {"series": "GPS (Absolute)", "t": 231.6, "alt": 43.84},
      {"series": "GPS (Absolute)", "t": 233, "alt": 44.0},
      {"series": "GPS (Absolute)", "t": 234.2, "alt": 44.2},
      {"series": "GPS (Absolute)", "t": 235.6, "alt": 44.25},
      {"series": "GPS (Absolute)", "t": 237, "alt": 44.3},
      {"series": "GPS (Absolute)", "t": 238.5, "alt": 44.8},
      {"series": "GPS (Absolute)", "t": 240.1, "alt": 45.21},
      {"series": "GPS (Absolute)", "t": 241.8, "alt": 45.25},
      {"series": "GPS (Absolute)", "t": 243.5, "alt": 45.3},
      {"series": "GPS (Absolute)", "t": 245.5, "alt": 45.7},
      {"series": "GPS (Absolute)", "t": 247.6, "alt": 46.12},
      {"series": "GPS (Absolute)", "t": 250.2, "alt": 46.3},
      {"series": "GPS (Absolute)", "t": 252.2, "alt": 46.85},
      {"series": "GPS (Absolute)", "t": 254.2, "alt": 47.4},
      {"series": "GPS (Absolute)", "t": 256.2, "alt": 47.55},
      {"series": "GPS (Absolute)", "t": 258.2, "alt": 47.67},
      {"series": "GPS (Absolute)", "t": 260.2, "alt": 47.75},
      {"series": "GPS (Absolute)", "t": 262.2, "alt": 47.86},
      {"series": "GPS (Absolute)", "t": 263.5, "alt": 47.75},
      {"series": "GPS (Absolute)", "t": 264.9, "alt": 47.67},
      {"series": "GPS (Absolute)", "t": 266.6, "alt": 47.8},
      {"series": "GPS (Absolute)", "t": 268.4, "alt": 47.86},
      {"series": "GPS (Absolute)", "t": 270, "alt": 47.8},
      {"series": "GPS (Absolute)", "t": 271, "alt": 47.86},
      {"series": "GPS (Absolute)", "t": 272.9, "alt": 48.22},
      {"series": "GPS (Absolute)", "t": 275, "alt": 48.45},
      {"series": "GPS (Absolute)", "t": 276.9, "alt": 48.68},
      {"series": "GPS (Absolute)", "t": 278.2, "alt": 48.9},
      {"series": "GPS (Absolute)", "t": 279.5, "alt": 49.13},
      {"series": "GPS (Absolute)", "t": 281.5, "alt": 49.25},
      {"series": "GPS (Absolute)", "t": 283.5, "alt": 49.41},
      {"series": "GPS (Absolute)", "t": 285, "alt": 49.5},
      {"series": "GPS (Absolute)", "t": 286.2, "alt": 49.64},
      {"series": "GPS (Absolute)", "t": 287.5, "alt": 49.45},
      {"series": "GPS (Absolute)", "t": 288.9, "alt": 49.22},
      {"series": "GPS (Absolute)", "t": 290.2, "alt": 48.7},
      {"series": "GPS (Absolute)", "t": 291.5, "alt": 48.22},
      {"series": "GPS (Absolute)", "t": 292.9, "alt": 48.1},
      {"series": "GPS (Absolute)", "t": 294.2, "alt": 47.95},
      {"series": "GPS (Absolute)", "t": 296.2, "alt": 47.8},
      {"series": "GPS (Absolute)", "t": 298.2, "alt": 47.67},
      {"series": "GPS (Absolute)", "t": 299.5, "alt": 47.55},
      {"series": "GPS (Absolute)", "t": 300.9, "alt": 47.4},
      {"series": "GPS (Absolute)", "t": 302.2, "alt": 47.2},
      {"series": "GPS (Absolute)", "t": 303.5, "alt": 47.03},
      {"series": "GPS (Absolute)", "t": 305.5, "alt": 47.05},
      {"series": "GPS (Absolute)", "t": 307.6, "alt": 47.03},
      {"series": "GPS (Absolute)", "t": 309, "alt": 46.9},
      {"series": "GPS (Absolute)", "t": 310.2, "alt": 46.85},
      {"series": "GPS (Absolute)", "t": 311.5, "alt": 46.95},
      {"series": "GPS (Absolute)", "t": 312.8, "alt": 46.94},
      {"series": "GPS (Absolute)", "t": 314.2, "alt": 46.7},
      {"series": "GPS (Absolute)", "t": 315.5, "alt": 46.49},
      {"series": "GPS (Absolute)", "t": 316.9, "alt": 46.35},
      {"series": "GPS (Absolute)", "t": 318.2, "alt": 46.21},
      {"series": "GPS (Absolute)", "t": 319.5, "alt": 46.0},
      {"series": "GPS (Absolute)", "t": 320.9, "alt": 45.85},
      {"series": "GPS (Absolute)", "t": 322.2, "alt": 45.65},
      {"series": "GPS (Absolute)", "t": 323.5, "alt": 45.48},
      {"series": "GPS (Absolute)", "t": 324.9, "alt": 45.3},
      {"series": "GPS (Absolute)", "t": 326.2, "alt": 45.12},
      {"series": "GPS (Absolute)", "t": 327.5, "alt": 44.9},
      {"series": "GPS (Absolute)", "t": 328.9, "alt": 44.57},
      {"series": "GPS (Absolute)", "t": 330.2, "alt": 44.0},
      {"series": "GPS (Absolute)", "t": 331.5, "alt": 43.47},
      {"series": "GPS (Absolute)", "t": 332.9, "alt": 43.55},
      {"series": "GPS (Absolute)", "t": 334.2, "alt": 43.5},
      {"series": "GPS (Absolute)", "t": 335.5, "alt": 43.42},
      {"series": "GPS (Absolute)", "t": 336.9, "alt": 43.38},
      {"series": "GPS (Absolute)", "t": 338.2, "alt": 43.2},
      {"series": "GPS (Absolute)", "t": 339.5, "alt": 43.01},
      {"series": "GPS (Absolute)", "t": 340.8, "alt": 43.3},
      {"series": "GPS (Absolute)", "t": 342.1, "alt": 43.66},
      {"series": "GPS (Absolute)", "t": 343.5, "alt": 43.55},
      {"series": "GPS (Absolute)", "t": 344.8, "alt": 44.0},
      {"series": "GPS (Absolute)", "t": 346.1, "alt": 44.48},
      {"series": "GPS (Absolute)", "t": 347.5, "alt": 44.9},
      {"series": "GPS (Absolute)", "t": 348.8, "alt": 45.3},
      {"series": "GPS (Absolute)", "t": 350.2, "alt": 45.6},
      {"series": "GPS (Absolute)", "t": 351.5, "alt": 45.85},
      {"series": "GPS (Absolute)", "t": 353.5, "alt": 46.1},
      {"series": "GPS (Absolute)", "t": 355.5, "alt": 46.39},
      {"series": "GPS (Absolute)", "t": 357.5, "alt": 46.65},
      {"series": "GPS (Absolute)", "t": 359.5, "alt": 46.94},
      {"series": "GPS (Absolute)", "t": 360.8, "alt": 47.2},
      {"series": "GPS (Absolute)", "t": 362.1, "alt": 47.49},
      {"series": "GPS (Absolute)", "t": 363.5, "alt": 47.75},
      {"series": "GPS (Absolute)", "t": 364.8, "alt": 47.95},
      {"series": "GPS (Absolute)", "t": 366.1, "alt": 48.05},
      {"series": "GPS (Absolute)", "t": 367.4, "alt": 48.04},
      {"series": "GPS (Absolute)", "t": 368.8, "alt": 47.85},
      {"series": "GPS (Absolute)", "t": 370.1, "alt": 47.76},
      {"series": "GPS (Absolute)", "t": 372, "alt": 47.7},
      {"series": "GPS (Absolute)", "t": 374.1, "alt": 47.63},
      {"series": "GPS (Absolute)", "t": 376.5, "alt": 47.6},
      {"series": "GPS (Absolute)", "t": 378, "alt": 47.55},
      {"series": "GPS (Absolute)", "t": 379.5, "alt": 47.58},
      {"series": "GPS (Absolute)", "t": 380.8, "alt": 47.75},
      {"series": "GPS (Absolute)", "t": 382.2, "alt": 47.86},
      {"series": "GPS (Absolute)", "t": 384, "alt": 48.1},
      {"series": "GPS (Absolute)", "t": 386.1, "alt": 48.31},
      {"series": "GPS (Absolute)", "t": 387.5, "alt": 48.5},
      {"series": "GPS (Absolute)", "t": 388.8, "alt": 48.68},
      {"series": "GPS (Absolute)", "t": 390.1, "alt": 48.75},
      {"series": "GPS (Absolute)", "t": 391.4, "alt": 48.86},
      {"series": "GPS (Absolute)", "t": 392.8, "alt": 49.0},
      {"series": "GPS (Absolute)", "t": 394.1, "alt": 49.13},
      {"series": "GPS (Absolute)", "t": 395.4, "alt": 49.0},
      {"series": "GPS (Absolute)", "t": 396.7, "alt": 48.95},
      {"series": "GPS (Absolute)", "t": 397.8, "alt": 49.2},
      {"series": "GPS (Absolute)", "t": 398.9, "alt": 49.5},
      {"series": "GPS (Absolute)", "t": 400, "alt": 49.1},
      {"series": "GPS (Absolute)", "t": 400.8, "alt": 48.77},
      {"series": "GPS (Absolute)", "t": 402.1, "alt": 48.75},
      {"series": "GPS (Absolute)", "t": 403.4, "alt": 48.68},
      {"series": "GPS (Absolute)", "t": 404.8, "alt": 48.35},
      {"series": "GPS (Absolute)", "t": 406.1, "alt": 48.08},
      {"series": "GPS (Absolute)", "t": 407.5, "alt": 47.95},
      {"series": "GPS (Absolute)", "t": 408.8, "alt": 47.86},
      {"series": "GPS (Absolute)", "t": 410.5, "alt": 47.8},
      {"series": "GPS (Absolute)", "t": 412.3, "alt": 47.67},
      {"series": "GPS (Absolute)", "t": 413.6, "alt": 47.6},
      {"series": "GPS (Absolute)", "t": 414.9, "alt": 47.58},
      {"series": "GPS (Absolute)", "t": 416.2, "alt": 48.0},
      {"series": "GPS (Absolute)", "t": 417.6, "alt": 48.4},
      {"series": "GPS (Absolute)", "t": 418.9, "alt": 48.05},
      {"series": "GPS (Absolute)", "t": 420.2, "alt": 47.76},
      {"series": "GPS (Absolute)", "t": 421.6, "alt": 47.6},
      {"series": "GPS (Absolute)", "t": 422.9, "alt": 47.49},
      {"series": "GPS (Absolute)", "t": 424.5, "alt": 47.3},
      {"series": "GPS (Absolute)", "t": 426.1, "alt": 47.12},
      {"series": "GPS (Absolute)", "t": 427.5, "alt": 47.0},
      {"series": "GPS (Absolute)", "t": 428.8, "alt": 46.94},
      {"series": "GPS (Absolute)", "t": 430.1, "alt": 46.8},
      {"series": "GPS (Absolute)", "t": 431.4, "alt": 46.85},
      {"series": "GPS (Absolute)", "t": 432.8, "alt": 46.7},
      {"series": "GPS (Absolute)", "t": 434.6, "alt": 46.58},
      {"series": "GPS (Absolute)", "t": 436.4, "alt": 46.75},
      {"series": "GPS (Absolute)", "t": 438.1, "alt": 46.85},
      {"series": "GPS (Absolute)", "t": 439.4, "alt": 46.5},
      {"series": "GPS (Absolute)", "t": 440.8, "alt": 46.3},
      {"series": "GPS (Absolute)", "t": 442.1, "alt": 45.6},
      {"series": "GPS (Absolute)", "t": 443.5, "alt": 45.02},
      {"series": "GPS (Absolute)", "t": 444.8, "alt": 44.9},
      {"series": "GPS (Absolute)", "t": 446.1, "alt": 44.57},
      {"series": "GPS (Absolute)", "t": 447.4, "alt": 44.55},
      {"series": "GPS (Absolute)", "t": 448.8, "alt": 44.48},
      {"series": "GPS (Absolute)", "t": 450.1, "alt": 44.1},
      {"series": "GPS (Absolute)", "t": 451.5, "alt": 43.75},
      {"series": "GPS (Absolute)", "t": 452.8, "alt": 43.8},
      {"series": "GPS (Absolute)", "t": 454.2, "alt": 43.75},
      {"series": "GPS (Absolute)", "t": 455.5, "alt": 43.65},
      {"series": "GPS (Absolute)", "t": 456.8, "alt": 43.56},
      {"series": "GPS (Absolute)", "t": 458.2, "alt": 43.62},
      {"series": "GPS (Absolute)", "t": 459.5, "alt": 43.7},
      {"series": "GPS (Absolute)", "t": 460.9, "alt": 43.8},
      {"series": "GPS (Absolute)", "t": 462.3, "alt": 43.88},
      {"series": "GPS (Absolute)", "t": 463.6, "alt": 43.9},
      {"series": "GPS (Absolute)", "t": 465, "alt": 43.84},
      {"series": "GPS (Absolute)", "t": 466.3, "alt": 44.15},
      {"series": "GPS (Absolute)", "t": 467.7, "alt": 44.48},
      {"series": "GPS (Absolute)", "t": 469, "alt": 44.95},
      {"series": "GPS (Absolute)", "t": 470.3, "alt": 45.39},
      {"series": "GPS (Absolute)", "t": 472.3, "alt": 45.8},
      {"series": "GPS (Absolute)", "t": 474.3, "alt": 46.12},
      {"series": "GPS (Absolute)", "t": 476.3, "alt": 46.2},
      {"series": "GPS (Absolute)", "t": 478.3, "alt": 46.3},
      {"series": "GPS (Absolute)", "t": 480.3, "alt": 46.5},
      {"series": "GPS (Absolute)", "t": 482.3, "alt": 46.67},
      {"series": "GPS (Absolute)", "t": 483.7, "alt": 46.75},
      {"series": "GPS (Absolute)", "t": 485, "alt": 46.85},
      {"series": "GPS (Absolute)", "t": 486.4, "alt": 46.95},
      {"series": "GPS (Absolute)", "t": 487.7, "alt": 47.03},
      {"series": "GPS (Absolute)", "t": 489, "alt": 47.2},
      {"series": "GPS (Absolute)", "t": 490.4, "alt": 47.4},
      {"series": "GPS (Absolute)", "t": 491.7, "alt": 47.45},
      {"series": "GPS (Absolute)", "t": 493, "alt": 47.49},
      {"series": "GPS (Absolute)", "t": 495, "alt": 47.7},
      {"series": "GPS (Absolute)", "t": 497, "alt": 47.86},
      {"series": "GPS (Absolute)", "t": 499, "alt": 47.95},
      {"series": "GPS (Absolute)", "t": 501.1, "alt": 48.04},
      {"series": "GPS (Absolute)", "t": 502.4, "alt": 48.1},
      {"series": "GPS (Absolute)", "t": 503.8, "alt": 48.22},
      {"series": "GPS (Absolute)", "t": 505.8, "alt": 48.45},
      {"series": "GPS (Absolute)", "t": 507.8, "alt": 48.68},
      {"series": "GPS (Absolute)", "t": 509.2, "alt": 48.95},
      {"series": "GPS (Absolute)", "t": 510.5, "alt": 49.22},
      {"series": "GPS (Absolute)", "t": 511.6, "alt": 49.5},
      {"series": "GPS (Absolute)", "t": 512.6, "alt": 49.82},
      {"series": "GPS (Absolute)", "t": 513.8, "alt": 49.45},
      {"series": "GPS (Absolute)", "t": 515, "alt": 49.04},
      {"series": "GPS (Absolute)", "t": 516.1, "alt": 48.75},
      {"series": "GPS (Absolute)", "t": 517.2, "alt": 48.49},
      {"series": "GPS (Absolute)", "t": 518.3, "alt": 48.6},
      {"series": "GPS (Absolute)", "t": 519.4, "alt": 48.77},
      {"series": "GPS (Absolute)", "t": 521, "alt": 48.2},
      {"series": "GPS (Absolute)", "t": 522.5, "alt": 47.58},
      {"series": "GPS (Absolute)", "t": 524.5, "alt": 47.7},
      {"series": "GPS (Absolute)", "t": 526.5, "alt": 47.86},
      {"series": "GPS (Absolute)", "t": 528.3, "alt": 47.95},
      {"series": "GPS (Absolute)", "t": 530, "alt": 48.04},
      {"series": "GPS (Absolute)", "t": 531.3, "alt": 47.6},
      {"series": "GPS (Absolute)", "t": 532.7, "alt": 47.22},
      {"series": "GPS (Absolute)", "t": 534.3, "alt": 47.3},
      {"series": "GPS (Absolute)", "t": 535.9, "alt": 47.4},
      {"series": "GPS (Absolute)", "t": 537.2, "alt": 47.35},
      {"series": "GPS (Absolute)", "t": 538.6, "alt": 47.3},
      {"series": "GPS (Absolute)", "t": 540, "alt": 47.03},
      {"series": "GPS (Absolute)", "t": 541.3, "alt": 47.15},
      {"series": "GPS (Absolute)", "t": 542.6, "alt": 47.3},
      {"series": "GPS (Absolute)", "t": 544, "alt": 47.1},
      {"series": "GPS (Absolute)", "t": 545.3, "alt": 46.85},
      {"series": "GPS (Absolute)", "t": 546.6, "alt": 46.7},
      {"series": "GPS (Absolute)", "t": 548, "alt": 46.49},
      {"series": "GPS (Absolute)", "t": 549.3, "alt": 45.75},
      {"series": "GPS (Absolute)", "t": 550.6, "alt": 45.5},
      {"series": "GPS (Absolute)", "t": 552, "alt": 45.21},
      {"series": "GPS (Absolute)", "t": 554, "alt": 44.6},
      {"series": "GPS (Absolute)", "t": 556, "alt": 43.93},
      {"series": "GPS (Absolute)", "t": 557.3, "alt": 43.85},
      {"series": "GPS (Absolute)", "t": 558.7, "alt": 43.8},
      {"series": "GPS (Absolute)", "t": 560, "alt": 43.55},
      {"series": "GPS (Absolute)", "t": 561.4, "alt": 43.29},
      {"series": "GPS (Absolute)", "t": 562.7, "alt": 43.3},
      {"series": "GPS (Absolute)", "t": 564, "alt": 43.29},
      {"series": "GPS (Absolute)", "t": 565.1, "alt": 43.0},
      {"series": "GPS (Absolute)", "t": 566.2, "alt": 42.64},
      {"series": "GPS (Absolute)", "t": 567.5, "alt": 42.05},
      {"series": "GPS (Absolute)", "t": 568.5, "alt": 42.5},
      {"series": "GPS (Absolute)", "t": 569.4, "alt": 42.74},
      {"series": "GPS (Absolute)", "t": 570.3, "alt": 42.6},
      {"series": "GPS (Absolute)", "t": 571.2, "alt": 42.64},
      {"series": "GPS (Absolute)", "t": 572.7, "alt": 43.2},
      {"series": "GPS (Absolute)", "t": 574.8, "alt": 43.29},
      {"series": "GPS (Absolute)", "t": 576.2, "alt": 43.9},
      {"series": "GPS (Absolute)", "t": 577.5, "alt": 44.48},
      {"series": "GPS (Absolute)", "t": 578.8, "alt": 44.8},
      {"series": "GPS (Absolute)", "t": 580.1, "alt": 45.12},
      {"series": "GPS (Absolute)", "t": 581.5, "alt": 45.4},
      {"series": "GPS (Absolute)", "t": 582.8, "alt": 45.66},
      {"series": "GPS (Absolute)", "t": 584.2, "alt": 45.85},
      {"series": "GPS (Absolute)", "t": 585.5, "alt": 46.03},
      {"series": "GPS (Absolute)", "t": 586.8, "alt": 45.95},
      {"series": "GPS (Absolute)", "t": 588.2, "alt": 46.0},
      {"series": "GPS (Absolute)", "t": 589.5, "alt": 46.15},
      {"series": "GPS (Absolute)", "t": 590.9, "alt": 46.3},
      {"series": "GPS (Absolute)", "t": 592.2, "alt": 46.25},
      {"series": "GPS (Absolute)", "t": 593.6, "alt": 46.3},
      {"series": "GPS (Absolute)", "t": 595, "alt": 46.2},
      {"series": "GPS (Absolute)", "t": 596.3, "alt": 46.16},
      {"series": "GPS (Absolute)", "t": 597.6, "alt": 46.8},
      {"series": "GPS (Absolute)", "t": 598.9, "alt": 47.4},
      {"series": "GPS (Absolute)", "t": 600.3, "alt": 47.55},
      {"series": "GPS (Absolute)", "t": 601.6, "alt": 47.67},
      {"series": "GPS (Absolute)", "t": 603.6, "alt": 48.1},
      {"series": "GPS (Absolute)", "t": 605.6, "alt": 48.49},
      {"series": "GPS (Absolute)", "t": 607.6, "alt": 48.6},
      {"series": "GPS (Absolute)", "t": 609.6, "alt": 48.68},
      {"series": "GPS (Absolute)", "t": 611.6, "alt": 48.85},
      {"series": "GPS (Absolute)", "t": 613.6, "alt": 49.04},
      {"series": "GPS (Absolute)", "t": 615, "alt": 49.2},
      {"series": "GPS (Absolute)", "t": 616.3, "alt": 49.32},
      {"series": "GPS (Absolute)", "t": 617.7, "alt": 49.45},
      {"series": "GPS (Absolute)", "t": 619, "alt": 49.59},
      {"series": "GPS (Absolute)", "t": 620.3, "alt": 49.5},
      {"series": "GPS (Absolute)", "t": 621.7, "alt": 49.5},
      {"series": "GPS (Absolute)", "t": 622.6, "alt": 49.55},
      {"series": "GPS (Absolute)", "t": 623.5, "alt": 49.59},
      {"series": "GPS (Absolute)", "t": 624.2, "alt": 49.1},
      {"series": "GPS (Absolute)", "t": 624.9, "alt": 48.59},
      {"series": "GPS (Absolute)", "t": 626, "alt": 48.9},
      {"series": "GPS (Absolute)", "t": 627, "alt": 49.13},
      {"series": "GPS (Absolute)", "t": 628.4, "alt": 49.2},
      {"series": "GPS (Absolute)", "t": 629.7, "alt": 49.22},
      {"series": "GPS (Absolute)", "t": 631, "alt": 48.95},
      {"series": "GPS (Absolute)", "t": 632.4, "alt": 48.68},
      {"series": "GPS (Absolute)", "t": 633.7, "alt": 48.7},
      {"series": "GPS (Absolute)", "t": 635.1, "alt": 48.77},
      {"series": "GPS (Absolute)", "t": 636.2, "alt": 48.9},
      {"series": "GPS (Absolute)", "t": 637.2, "alt": 49.04},
      {"series": "GPS (Absolute)", "t": 638.5, "alt": 48.8},
      {"series": "GPS (Absolute)", "t": 639.9, "alt": 48.59},
      {"series": "GPS (Absolute)", "t": 641.5, "alt": 48.35},
      {"series": "GPS (Absolute)", "t": 643.1, "alt": 48.13},
      {"series": "GPS (Absolute)", "t": 644.5, "alt": 47.7},
      {"series": "GPS (Absolute)", "t": 645.8, "alt": 47.22},
      {"series": "GPS (Absolute)", "t": 647.8, "alt": 47.2},
      {"series": "GPS (Absolute)", "t": 649.8, "alt": 47.2},
      {"series": "GPS (Absolute)", "t": 651.2, "alt": 46.8},
      {"series": "GPS (Absolute)", "t": 652.5, "alt": 46.39},
      {"series": "GPS (Absolute)", "t": 653.8, "alt": 46.45},
      {"series": "GPS (Absolute)", "t": 655.2, "alt": 46.48},
      {"series": "GPS (Absolute)", "t": 656.5, "alt": 46.3},
      {"series": "GPS (Absolute)", "t": 657.9, "alt": 46.12},
      {"series": "GPS (Absolute)", "t": 659.2, "alt": 45.65},
      {"series": "GPS (Absolute)", "t": 660.5, "alt": 45.21},
      {"series": "GPS (Absolute)", "t": 662.5, "alt": 45.1},
      {"series": "GPS (Absolute)", "t": 664.5, "alt": 45.02},
      {"series": "GPS (Absolute)", "t": 665.9, "alt": 44.9},
      {"series": "GPS (Absolute)", "t": 667.2, "alt": 44.84},
      {"series": "GPS (Absolute)", "t": 668.5, "alt": 44.55},
      {"series": "GPS (Absolute)", "t": 669.9, "alt": 44.29},
      {"series": "GPS (Absolute)", "t": 671, "alt": 44.1},
      {"series": "GPS (Absolute)", "t": 672, "alt": 43.93},
      {"series": "GPS (Absolute)", "t": 673, "alt": 43.9},
      {"series": "GPS (Absolute)", "t": 674, "alt": 43.84},
      {"series": "GPS (Absolute)", "t": 674.5, "alt": 43.29},
      {"series": "GPS (Absolute)", "t": 675, "alt": 43.34}
    ]
  },
  "encoding": {
    "x": {
      "field": "t",
      "type": "quantitative",
      "scale": {"domain": [-33.75, 708.75], "nice": false, "zero": false},
      "axis": {"title": "Time (s)", "values": [0, 100, 200, 300, 400, 500, 600, 700], "titlePadding": 5}
    },
    "y": {
      "field": "alt",
      "type": "quantitative",
      "scale": {"domain": [41.45, 54.09], "nice": false, "zero": false},
      "axis": {"title": "Altitude (m)", "values": [42, 44, 46, 48, 50, 52, 54], "titlePadding": 6}
    },
    "color": {
      "field": "series",
      "type": "nominal",
      "title": null,
      "scale": {
        "domain": ["Baro (Absolute)", "Kalman Filter (Absolute)", "GPS (Absolute)"],
        "range": ["rgba(31,119,180,0.5)", "#0000ff", "rgba(0,128,0,0.5)"]
      }
    },
    "strokeDash": {
      "field": "series",
      "type": "nominal",
      "title": null,
      "scale": {
        "domain": ["Baro (Absolute)", "Kalman Filter (Absolute)", "GPS (Absolute)"],
        "range": [[7.7, 3.3], [1, 0], [1, 0]]
      }
    },
    "strokeWidth": {
      "field": "series",
      "type": "nominal",
      "title": null,
      "scale": {
        "domain": ["Baro (Absolute)", "Kalman Filter (Absolute)", "GPS (Absolute)"],
        "range": [2.0, 2.8, 1.8]
      }
    }
  },
  "layer": [
    {
      "transform": [{"filter": "datum.series === 'Baro (Absolute)'"}],
      "mark": {"type": "line", "interpolate": "monotone"}
    },
    {
      "transform": [{"filter": "datum.series === 'Kalman Filter (Absolute)'"}],
      "mark": {"type": "line", "interpolate": "monotone"}
    },
    {
      "transform": [{"filter": "datum.series === 'GPS (Absolute)'"}],
      "mark": {"type": "line"}
    }
  ]
}
